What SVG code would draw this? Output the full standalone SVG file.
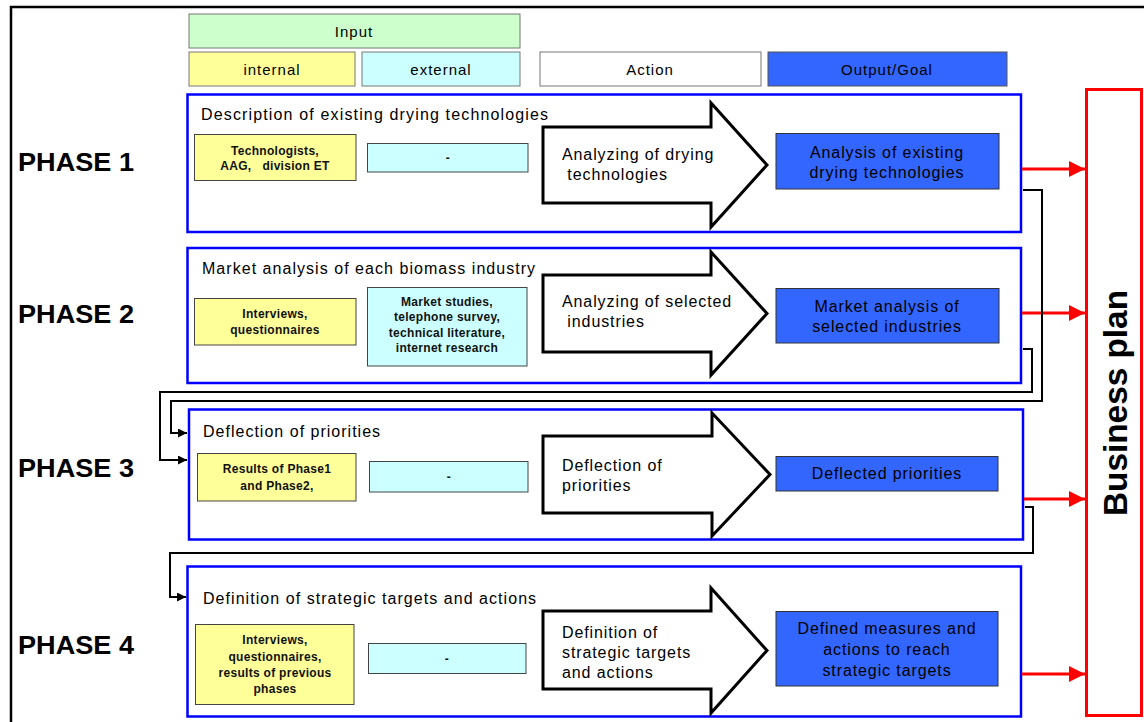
<svg xmlns="http://www.w3.org/2000/svg" width="1144" height="722" viewBox="0 0 1144 722">
<defs>
<style>
text{font-family:"Liberation Sans",Arial,sans-serif;fill:#000}
.hd{font-size:15px;letter-spacing:1px;text-anchor:middle}
.tx{font-size:16px;letter-spacing:0.9px}
.ct{text-anchor:middle}
.sm{font-size:12px;font-weight:bold;letter-spacing:0.3px;text-anchor:middle;fill:#111}
.ph{font-size:25px;font-weight:bold}
.pbox{fill:#fff;stroke:#0000ff;stroke-width:2.5}
.yel{fill:#ffff99;stroke:#444;stroke-width:1}
.cya{fill:#ccffff;stroke:#444;stroke-width:1}
.out{fill:#3366ff;stroke:#333;stroke-width:1}
.arr{fill:#fff;stroke:#000;stroke-width:3;stroke-linejoin:miter}
.red{stroke:#ff0000;stroke-width:3;fill:none}
.blk{stroke:#000;stroke-width:2;fill:none}
</style>
<marker id="rh" markerUnits="userSpaceOnUse" markerWidth="18" markerHeight="18" refX="16" refY="8" orient="auto"><path d="M0,0 L16,8 L0,16 z" fill="#ff0000"/></marker>
<marker id="bh" markerUnits="userSpaceOnUse" markerWidth="10" markerHeight="10" refX="9" refY="4.5" orient="auto"><path d="M0,0 L9,4.5 L0,9 z" fill="#000"/></marker>
</defs>
<rect x="0" y="0" width="1144" height="722" fill="#fff"/>
<rect x="11" y="7" width="1160" height="740" fill="none" stroke="#000" stroke-width="2.5"/>

<g id="header">
<rect x="189" y="14" width="331" height="34" fill="#ccffcc" stroke="#777" stroke-width="1"/>
<text class="hd" x="354" y="37">Input</text>
<rect x="189" y="52" width="166" height="34" fill="#ffff99" stroke="#777" stroke-width="1"/>
<text class="hd" x="272" y="75">internal</text>
<rect x="362" y="52" width="158" height="34" fill="#ccffff" stroke="#777" stroke-width="1"/>
<text class="hd" x="441" y="75">external</text>
<rect x="540" y="52" width="221" height="34" fill="#fff" stroke="#777" stroke-width="1"/>
<text class="hd" x="650" y="75">Action</text>
<rect x="768" y="52" width="239" height="34" fill="#3366ff" stroke="#555" stroke-width="1"/>
<text class="hd" x="887" y="75">Output/Goal</text>
</g>

<g id="phase-labels">
<text class="ph" x="18" y="171" textLength="116" lengthAdjust="spacingAndGlyphs">PHASE 1</text>
<text class="ph" x="18" y="323" textLength="116" lengthAdjust="spacingAndGlyphs">PHASE 2</text>
<text class="ph" x="18" y="477" textLength="116" lengthAdjust="spacingAndGlyphs">PHASE 3</text>
<text class="ph" x="18" y="654" textLength="116" lengthAdjust="spacingAndGlyphs">PHASE 4</text>
</g>

<g id="phase1">
<rect class="pbox" x="187.5" y="94.5" width="833.5" height="137.5"/>
<text class="tx" x="201" y="120" textLength="348" lengthAdjust="spacing">Description of existing drying technologies</text>
<rect class="yel" x="194.5" y="134.5" width="161.5" height="46"/>
<text class="sm" x="275" y="155">Technologists,</text>
<text class="sm" x="275" y="170" xml:space="preserve">AAG,   division ET</text>
<rect class="cya" x="367.5" y="143.5" width="160.5" height="28.5"/>
<text class="sm" x="448" y="162">-</text>
<path class="arr" d="M543,127 H711 V103 L767,165 L711,227 V203 H543 Z"/>
<text class="tx" x="562" y="160">Analyzing of drying</text>
<text class="tx" x="562" y="180" xml:space="preserve"> technologies</text>
<rect class="out" x="776" y="133.5" width="223" height="55.5"/>
<text class="tx ct" x="887" y="158">Analysis of existing</text>
<text class="tx ct" x="887" y="178">drying technologies</text>
</g>

<g id="phase2">
<rect class="pbox" x="187.5" y="248" width="833.5" height="135"/>
<text class="tx" x="202" y="274" textLength="334" lengthAdjust="spacing">Market analysis of each biomass industry</text>
<rect class="yel" x="194.5" y="298.5" width="161.5" height="46.5"/>
<text class="sm" x="275" y="318">Interviews,</text>
<text class="sm" x="275" y="334">questionnaires</text>
<rect class="cya" x="367.5" y="287.5" width="159.5" height="78.5"/>
<text class="sm" x="447" y="306">Market studies,</text>
<text class="sm" x="447" y="321">telephone survey,</text>
<text class="sm" x="447" y="337">technical literature,</text>
<text class="sm" x="447" y="352">internet research</text>
<path class="arr" d="M543,275 H711 V252 L767,313.5 L711,375 V352 H543 Z"/>
<text class="tx" x="562" y="307">Analyzing of selected</text>
<text class="tx" x="562" y="327" xml:space="preserve"> industries</text>
<rect class="out" x="776" y="288.5" width="223" height="54.5"/>
<text class="tx ct" x="887" y="312">Market analysis of</text>
<text class="tx ct" x="887" y="332">selected industries</text>
</g>

<g id="phase3">
<rect class="pbox" x="189" y="409.5" width="834" height="130"/>
<text class="tx" x="203" y="437" textLength="178" lengthAdjust="spacing">Deflection of priorities</text>
<rect class="yel" x="197.5" y="453.5" width="158.5" height="47.5"/>
<text class="sm" x="277" y="473">Results of Phase1</text>
<text class="sm" x="277" y="490">and Phase2,</text>
<rect class="cya" x="369.5" y="461.5" width="158.5" height="30.5"/>
<text class="sm" x="449" y="481">-</text>
<path class="arr" d="M543,436 H712 V413 L770,474.5 L712,536 V513 H543 Z"/>
<text class="tx" x="562" y="471">Deflection of</text>
<text class="tx" x="562" y="491">priorities</text>
<rect class="out" x="776" y="456.5" width="222" height="34.5"/>
<text class="tx ct" x="887" y="479">Deflected priorities</text>
</g>

<g id="phase4">
<rect class="pbox" x="187.5" y="566.5" width="833.5" height="150"/>
<text class="tx" x="203" y="604" textLength="334" lengthAdjust="spacing">Definition of strategic targets and actions</text>
<rect class="yel" x="195.5" y="624.5" width="158.5" height="80"/>
<text class="sm" x="275" y="644">Interviews,</text>
<text class="sm" x="275" y="661">questionnaires,</text>
<text class="sm" x="275" y="677">results of previous</text>
<text class="sm" x="275" y="693">phases</text>
<rect class="cya" x="368.5" y="643.5" width="157.5" height="30"/>
<text class="sm" x="447" y="663">-</text>
<path class="arr" d="M543,611 H711 V588 L767,650.5 L711,713 V689 H543 Z"/>
<text class="tx" x="562" y="638">Definition of</text>
<text class="tx" x="562" y="658">strategic targets</text>
<text class="tx" x="562" y="678">and actions</text>
<rect class="out" x="776" y="611.5" width="222" height="74.5"/>
<text class="tx ct" x="887" y="634">Defined measures and</text>
<text class="tx ct" x="887" y="655">actions to reach</text>
<text class="tx ct" x="887" y="676">strategic targets</text>
</g>

<g id="business-plan">
<rect x="1086.5" y="89.5" width="55" height="626" fill="#fff" stroke="#ff0000" stroke-width="3"/>
<text x="0" y="0" transform="translate(1127,403) rotate(-90)" text-anchor="middle" font-size="34" font-weight="bold" textLength="226" lengthAdjust="spacingAndGlyphs">Business plan</text>
</g>

<g id="connectors">
<path class="red" d="M1022,169 H1085" marker-end="url(#rh)"/>
<path class="red" d="M1022,313 H1085" marker-end="url(#rh)"/>
<path class="red" d="M1024,499 H1085" marker-end="url(#rh)"/>
<path class="red" d="M1022,674 H1085" marker-end="url(#rh)"/>
<path class="blk" d="M1023,190 H1042 V401 H171 V433 H187" marker-end="url(#bh)"/>
<path class="blk" d="M1023,349 H1032 V392 H160 V460 H187" marker-end="url(#bh)"/>
<path class="blk" d="M1025,507 H1033 V553 H170 V597 H186" marker-end="url(#bh)"/>
</g>
</svg>
